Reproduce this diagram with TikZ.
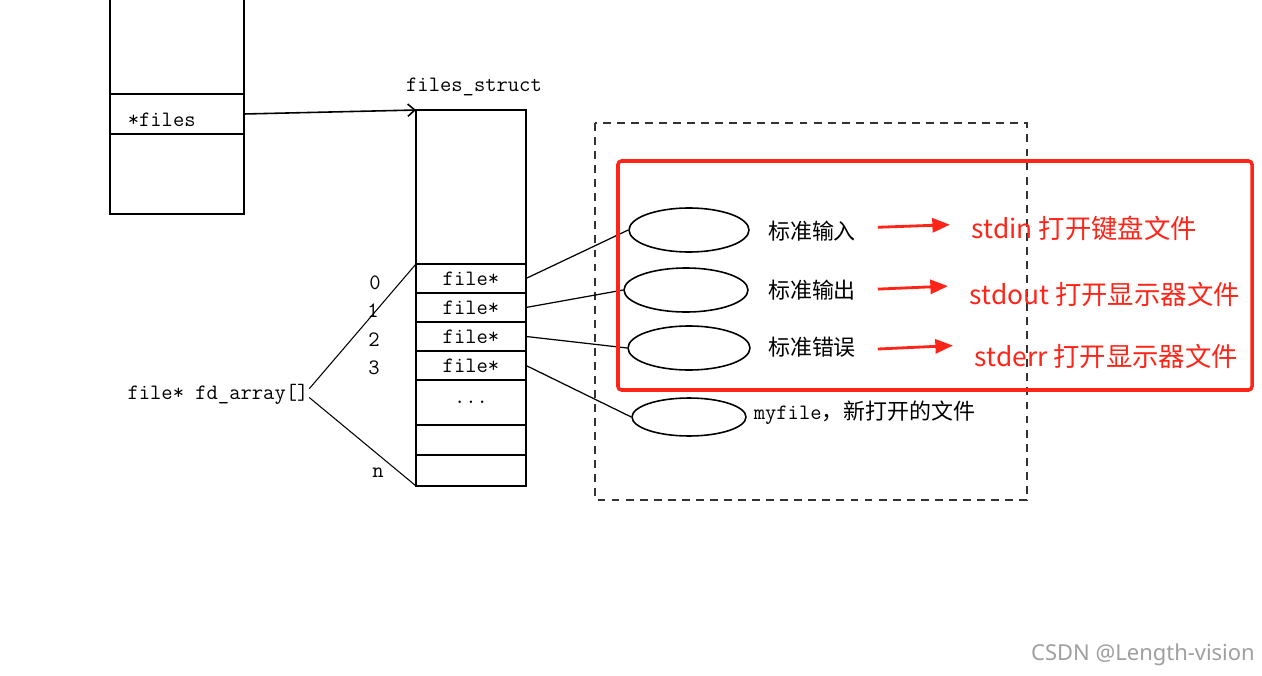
\documentclass[tikz,border=0pt]{standalone}
\usepackage{fontspec}
\newfontfamily\cjk{Noto Sans CJK SC}
\newfontfamily\markfont{Noto Sans}
\usetikzlibrary{arrows.meta,positioning,shapes.geometric}
\definecolor{markred}{RGB}{255,36,24}
\newcommand\monotext{\fontsize{12.5}{14}\selectfont\ttfamily}
\newcommand\cjklabel{\cjk\fontsize{12.5}{15}\selectfont}
\tikzset{
	cell/.style={draw,minimum width=2.2cm,inner sep=0pt,outer sep=0pt,font=\monotext},
	oval/.style={draw,ellipse,minimum width=2.4cm,minimum height=0.88cm,inner sep=0pt},
	blacklabel/.style={inner sep=0pt,font=\cjklabel},
	redtext/.style={inner sep=0pt,anchor=west,text=markred,font=\cjk\fontsize{15}{18}\selectfont},
	redarrow/.style={markred,line width=1.6pt,-{Triangle[length=10pt,width=8pt]},
		shorten <=12pt,shorten >=12pt}
}
\begin{document}
\begin{tikzpicture}[x=0.02cm,y=-0.02cm,line width=0.9pt]
	\useasboundingbox (0,0) rectangle (1262,676);

	% task box
	\node[draw,minimum width=2.68cm,minimum height=0.8cm,inner sep=0pt,outer sep=0pt] (filesptr) at (177,114) {};
	\node[draw,minimum width=2.68cm,minimum height=1.6cm,inner sep=0pt,outer sep=0pt,
	below=0pt of filesptr] (taskBottom) {};
	\draw (filesptr.north west) -- ++(0,-94) (filesptr.north east) -- ++(0,-94);
	\node[font=\monotext,anchor=west,inner sep=0pt] (filesTxt) at (127,120) {*files};

	% files_struct
	\node[font=\monotext] (fsName) at (474,87) {files\_struct};
	\node[cell,minimum height=3.08cm] (fsTop) at (471,187) {};
	\node[cell,minimum height=0.58cm,below=0pt of fsTop] (fd0) {file*};
	\node[cell,minimum height=0.58cm,below=0pt of fd0] (fd1) {file*};
	\node[cell,minimum height=0.58cm,below=0pt of fd1] (fd2) {file*};
	\node[cell,minimum height=0.58cm,below=0pt of fd2] (fd3) {file*};
	\node[cell,minimum height=0.9cm,below=0pt of fd3] (fdDots) {...};
	\node[cell,minimum height=0.6cm,below=0pt of fdDots] (fd5) {};
	\node[cell,minimum height=0.62cm,below=0pt of fd5] (fdN) {};

	% indexes
	\node[font=\monotext] (idx0) at (375,283) {0};
	\node[font=\monotext] (idx1) at (373,311) {1};
	\node[font=\monotext] (idx2) at (374,340) {2};
	\node[font=\monotext] (idx3) at (374,368) {3};
	\node[font=\monotext] (idxN) at (378,473) {n};
	\node[font=\monotext,inner sep=0pt] (fdarray) at (218,394) {file* fd\_array[]};

	% open files
	\draw[dashed,dash pattern=on 4.5pt off 3.5pt,black!80] (595,123) rectangle (1027,500);
	\node[oval] (stdinOval) at (689,230) {};
	\node[oval,minimum width=2.48cm] (stdoutOval) at (686,290) {};
	\node[oval,minimum width=2.44cm] (stderrOval) at (689,348) {};
	\node[oval,minimum width=2.28cm,minimum height=0.76cm] (myOval) at (689,417) {};
	\node[blacklabel] (stdinLbl) at (812,231) {标准输入};
	\node[blacklabel] (stdoutLbl) at (812,290) {标准输出};
	\node[blacklabel] (stderrLbl) at (812,347) {标准错误};
	\node[inner sep=0pt,anchor=west] (myLbl) at (753,413) {{\monotext myfile}{\cjklabel ，新打开的文件}};

	% Arrows
	\draw[-{Straight Barb[length=4pt,width=7pt]}] (filesptr.east) -- (fsTop.north west);
	\draw[line width=0.6pt] ([yshift=3pt]fdarray.east) -- (fd0.north west);
	\draw[line width=0.6pt] ([yshift=-2pt]fdarray.east) -- (fdN.south west);
	\draw[line width=0.7pt] (fd0.east) -- (stdinOval.west);
	\draw[line width=0.7pt] (fd1.east) -- (stdoutOval.west);
	\draw[line width=0.7pt] (fd2.east) -- (stderrOval.west);
	\draw[line width=0.7pt] (fd3.east) -- (myOval.west);

	% highlight
	\draw[markred,line width=2pt,rounded corners=2pt] (618,161) rectangle (1252,390);
	\node[redtext] (stdinRed) at (971,228) {stdin 打开键盘文件};
	\node[redtext] (stdoutRed) at (969,294) {stdout 打开显示器文件};
	\node[redtext] (stderrRed) at (974,356) {stderr 打开显示器文件};
	\draw[redarrow] ([yshift=1.7pt]stdinLbl.east) -- ([yshift=2.3pt]stdinRed.west);
	\draw[redarrow] (stdoutLbl.east) -- ([yshift=5pt]stdoutRed.west);
	\draw[redarrow] ([yshift=-1.7pt]stderrLbl.east) -- ([yshift=6.5pt]stderrRed.west);

	\node[font=\markfont\fontsize{12.5}{15}\selectfont,text=gray!75] (mark) at (1143,655) {CSDN @Length-vision};
\end{tikzpicture}
\end{document}
